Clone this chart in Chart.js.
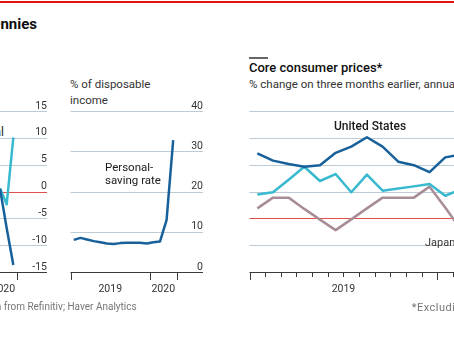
<!DOCTYPE html>
<html>
<head>
<meta charset="utf-8">
<script src="https://cdn.jsdelivr.net/npm/chart.js@4.4.1/dist/chart.umd.min.js"></script>
<style>
  body { margin: 0; width: 454px; height: 340px; overflow: hidden; background: #fff; position: relative; font-family: Roboto, sans-serif; }
  canvas, .txt, .rule { position: absolute; }
  .txt { white-space: nowrap; color: #333; }
  .head { font-weight: 700; font-size: 15px; line-height: 15px; color: #0d0d0d; }
  .ttl { font-weight: 500; font-size: 13px; line-height: 13px; color: #0d0d0d; }
  .sub { font-size: 11.5px; }
  .lbl { font-size: 11.5px; color: #1a1a1a; }
  .src { font-size: 10px; line-height: 10px; color: #767676; }
</style>
</head>
<body>
<div class="rule" style="left:0; top:1px; width:454px; height:1.5px; background:#e3120b"></div>
<div class="txt head" style="right:417px; top:17.4px">Pinching pennies</div>

<div class="txt lbl" style="right:450px; top:125.9px; font-size:12px; line-height:12px">Personal</div>
<canvas id="spending" width="47" height="220" style="left:0; top:90px"></canvas>

<div class="txt sub" style="left:70px; top:77.3px; line-height:15.5px">% of disposable<br>income</div>
<canvas id="saving" width="133" height="220" style="left:70px; top:90px"></canvas>
<div class="txt lbl" style="left:105px; top:161.1px; line-height:13.3px">Personal-<br>saving rate</div>

<div class="rule" style="left:249.3px; top:57px; width:19px; height:2px; background:#666"></div>
<div class="txt ttl" style="left:249px; top:61.4px">Core consumer prices*</div>
<div class="txt sub" style="left:249px; top:78.6px; line-height:11.5px">% change on three months earlier, annualised</div>
<canvas id="prices" width="251" height="220" style="left:249px; top:90px"></canvas>
<div class="txt" style="left:334px; top:119.9px; font-size:12px; line-height:12px; font-weight:500; color:#1a1a1a">United States</div>
<div class="txt" style="left:425px; top:236.6px; font-size:11px; line-height:11px; color:#333">Japan</div>

<div class="txt src" style="right:317.3px; top:302.3px">Sources: BEA; Eurostat; The Economist's calculation from Refinitiv; Haver Analytics</div>
<div class="txt src" style="left:411.7px; top:302px; font-size:11px; line-height:11px; letter-spacing:0.5px">*Excluding food and energy</div>

<script>
// months are written yyyy-mm, x axis counts months from Jan 2019
const spendMonths = ['2020-02', '2020-03', '2020-04'];
const incomeChange = [0.7, -2.3, 10.2];
const spendingChange = [0.6, -6.7, -13.6];

const savingMonths = ['2019-01', '2019-02', '2019-03', '2019-04', '2019-05', '2019-06', '2019-07', '2019-08',
    '2019-09', '2019-10', '2019-11', '2019-12', '2020-01', '2020-02', '2020-03', '2020-04'];
const savingRate = [8.1, 8.6, 8.2, 7.8, 7.5, 7.2, 7.1, 7.3, 7.4, 7.4, 7.4, 7.2, 7.5, 7.7, 13.0, 32.9];

const priceMonths = ['2019-01', '2019-02', '2019-03', '2019-04', '2019-05', '2019-06', '2019-07', '2019-08',
    '2019-09', '2019-10', '2019-11', '2019-12', '2020-01', '2020-02'];
const usCore = [2.44, 2.17, 2.04, 1.94, 2.0, 2.46, 2.69, 3.04, 2.69, 2.13, 2.0, 1.74, 2.29, 2.4];
const euroCore = [0.91, 0.99, 1.46, 1.94, 1.41, 1.67, 0.99, 1.65, 1.05, 1.13, 1.21, 1.3, 0.86, 1.1];
const japanCore = [0.39, 0.79, 0.79, 0.37, -0.03, -0.42, -0.02, 0.39, 0.79, 0.79, 0.79, 1.2, 0.42, -0.4];

const years = ['2019', '2020'];

const darkBlue = '#17609a';
const lightBlue = '#38b9cf';
const mauve = '#a88d98';

// middle of the month
function monthX(m) {
    let [y, mo] = m.split('-').map(Number);
    return (y - 2019) * 12 + (mo - 1) + 0.5;
}

function series(months, values, colour) {
    return {
        data: months.map((m, i) => ({ x: monthX(m), y: values[i] })),
        borderColor: colour,
        borderWidth: 2.5,
        pointRadius: 0,
        tension: 0,
        borderJoinStyle: 'round',
        clip: 3
    };
}

// year labels go in the middle of the year (2020 only runs to April)
const yearMid = { '2019': 6, '2020': 14 };

// tick marks and year labels under the plot
function timeAxis(longTicks, shortTicks) {
    return {
        id: 'timeAxis',
        afterDraw(chart) {
            const { ctx, chartArea, scales } = chart;
            const x = scales.x;
            ctx.save();
            ctx.strokeStyle = '#3b3b3b';
            ctx.lineWidth = 1;
            const tick = (v, len) => {
                let px = Math.round(x.getPixelForValue(v)) + 0.5;
                ctx.beginPath();
                ctx.moveTo(px, chartArea.bottom);
                ctx.lineTo(px, chartArea.bottom + len);
                ctx.stroke();
            };
            shortTicks.forEach(v => tick(v, 4.5));
            longTicks.forEach(v => tick(v, 7.5));
            ctx.fillStyle = '#333';
            ctx.font = '10.5px Roboto';
            ctx.textAlign = 'center';
            years.forEach(y => ctx.fillText(y, x.getPixelForValue(yearMid[y]), chartArea.bottom + 19.5));
            ctx.restore();
        }
    };
}

function makePanel(id, p) {
    return new Chart(document.getElementById(id), {
        type: 'line',
        data: { datasets: p.datasets },
        options: {
            responsive: false,
            animation: false,
            events: [],
            layout: { padding: p.padding, autoPadding: false },
            plugins: { legend: { display: false }, tooltip: { enabled: false } },
            scales: {
                x: { type: 'linear', display: false, min: p.xMin, max: p.xMax },
                y: {
                    position: 'right',
                    min: p.yMin,
                    max: p.yMax,
                    ticks: {
                        stepSize: p.step,
                        mirror: true,
                        padding: 0,
                        labelOffset: -5.5,
                        color: '#333',
                        font: { family: 'Roboto', size: 10.5 }
                    },
                    grid: {
                        drawTicks: false,
                        lineWidth: 1,
                        color: ctx => ctx.tick.value === p.yMin ? '#3b3b3b'
                            : ctx.tick.value === 0 ? '#e0504a' : '#bccbd4'
                    },
                    border: { display: false }
                }
            }
        },
        plugins: [timeAxis(p.longTicks, p.shortTicks || [])]
    });
}

makePanel('spending', {
    datasets: [
        series(spendMonths, spendingChange, darkBlue),
        series(spendMonths, incomeChange, lightBlue)
    ],
    padding: { top: 21.5, bottom: 37.5, left: 0, right: 0 },
    xMin: 13.5, xMax: 20.55,
    yMin: -15, yMax: 15, step: 5,
    longTicks: [12, 16]
});

makePanel('saving', {
    datasets: [series(savingMonths, savingRate, darkBlue)],
    padding: { top: 21.5, bottom: 37.5, left: 0.5, right: 0 },
    xMin: 0, xMax: 20,
    yMin: 0, yMax: 40, step: 10,
    longTicks: [0, 12, 16]
});

let monthTicks = [];
for (let i = 1; i <= 16; i++) if (i !== 12) monthTicks.push(i);

makePanel('prices', {
    datasets: [
        series(priceMonths, usCore, darkBlue),
        series(priceMonths, euroCore, lightBlue),
        series(priceMonths, japanCore, mauve)
    ],
    padding: { top: 21.5, bottom: 37.5, left: 0.5, right: 0 },
    xMin: 0, xMax: 16,
    yMin: -2, yMax: 4, step: 1,
    longTicks: [0, 12],
    shortTicks: monthTicks
});
</script>
</body>
</html>
